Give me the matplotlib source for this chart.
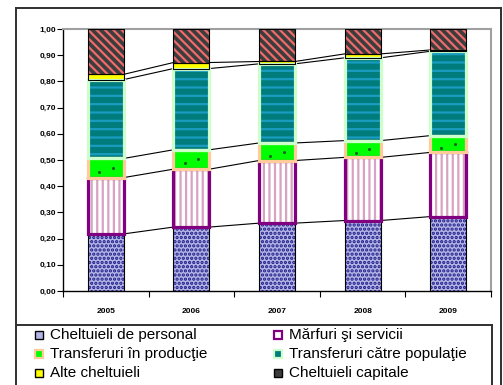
import numpy as np
import matplotlib.pyplot as plt
from matplotlib.patches import Rectangle
from matplotlib.lines import Line2D

plt.rcParams['font.family'] = ['Liberation Sans', 'DejaVu Sans']
plt.rcParams['hatch.linewidth'] = 1.6

years = ['2005', '2006', '2007', '2008', '2009']

# shares of total expenditure, one list per category
personal = [0.218, 0.244, 0.259, 0.269, 0.284]
marfuri = [0.215, 0.221, 0.239, 0.241, 0.245]
productie = [0.073, 0.074, 0.067, 0.064, 0.064]
populatie = [0.301, 0.310, 0.302, 0.316, 0.322]
alte = [0.020, 0.023, 0.009, 0.015, 0.005]
capitale = [0.173, 0.128, 0.124, 0.095, 0.080]

labels = ['Cheltuieli de personal', 'Mărfuri şi servicii',
          'Transferuri în producţie', 'Transferuri către populaţie',
          'Alte cheltuieli', 'Cheltuieli capitale']

# (face, hatch, hatch colour, border colour, border width)
styles = [
    ('#b4b4e6', '....', '#1c1c88', '#000000', 0.8),
    ('#ffffff', '|||', '#d7a3c3', '#800080', 2.3),
    ('#00ff00', '', '#00ff00', '#ffcc99', 2.3),
    ('#007c7c', '--', '#1a9cc0', '#ccffcc', 2.3),
    ('#ffff00', '', '#ffff00', '#000000', 0.8),
    ('#3c3c3c', '\\\\\\\\', '#ee6b6b', '#000000', 0.8),
]

series = [personal, marfuri, productie, populatie, alte, capitale]

fig = plt.figure(figsize=(5.03, 3.85), dpi=100)
ax = fig.add_axes([63 / 503, 1 - 291 / 385, 428 / 503, 262 / 385])

x = np.arange(len(years))
width = 0.42
bottom = np.zeros(len(years))
for vals, (face, hatch, hcol, ecol, lw) in zip(series, styles):
    vals = np.array(vals)
    ax.bar(x, vals, width, bottom=bottom, color=face, hatch=hatch,
           edgecolor=hcol, linewidth=0, zorder=2)
    ax.bar(x, vals, width, bottom=bottom, fill=False,
           edgecolor=ecol, linewidth=lw, zorder=3)
    bottom = bottom + vals

# a few dark specks on the green segments
prod_mid = np.array(personal) + np.array(marfuri) + np.array(productie) / 2
ax.scatter(x + 0.08, prod_mid, s=1.5, color='#206020', zorder=4)
ax.scatter(x - 0.08, prod_mid - 0.015, s=1.5, color='#206020', zorder=4)

# series lines between neighbouring bars
tops = np.cumsum(np.array(series), axis=0)[:-1]
for row in tops:
    for i in range(len(years) - 1):
        ax.plot([x[i] + width / 2, x[i + 1] - width / 2], [row[i], row[i + 1]],
                color='black', lw=0.8, zorder=1)

ax.set_xlim(-0.5, len(years) - 0.5)
ax.set_ylim(0, 1.0)
ax.set_yticks(np.arange(0, 1.01, 0.1))
ax.set_yticklabels([f'{v:.2f}'.replace('.', ',') for v in np.arange(0, 1.01, 0.1)],
                   fontsize=6, fontweight='bold')
ax.set_xticks(x)
ax.set_xticklabels(years, fontsize=6, fontweight='bold')
ax.set_xticks(np.arange(-0.5, len(years), 1), minor=True)
ax.tick_params(axis='x', which='major', length=0, pad=12)
ax.tick_params(axis='x', which='minor', length=4, width=0.8, direction='out')
ax.tick_params(axis='y', length=4, width=0.8, pad=1, direction='out')

for side in ['left', 'bottom']:
    ax.spines[side].set_color('black')
    ax.spines[side].set_linewidth(1.0)
for side in ['top', 'right']:
    ax.spines[side].set_color('#a0a0a0')
    ax.spines[side].set_linewidth(1.5)


def fx(px):
    return px / 503


def fy(py):
    return 1 - py / 385


# chart frame and legend box
frame = [((16, 16), (8, 390)), ((16, 501), (8, 8)), ((501, 501), (8, 390)),
         ((16, 492), (324.5, 324.5)), ((492, 492), (324.5, 390))]
for (xs, ys) in frame:
    fig.add_artist(Line2D([fx(v) for v in xs], [fy(v) for v in ys],
                          color='#303030', lw=1.4))

# legend entries, two per row
col_x = [35, 274]
row_y = [335, 354, 373]
for k, (lab, (face, hatch, hcol, ecol, lw)) in enumerate(zip(labels, styles)):
    cx = col_x[k % 2]
    cy = row_y[k // 2]
    s = 8
    fig.add_artist(Rectangle((fx(cx), fy(cy + s / 2)), s / 503, s / 385,
                             facecolor=face, edgecolor=ecol,
                             linewidth=1.6 if lw > 1 else 1.0,
                             transform=fig.transFigure))
    fig.text(fx(cx + 15), fy(cy), lab, fontsize=11, va='center', ha='left')

fig.savefig('out.png', dpi=100)
